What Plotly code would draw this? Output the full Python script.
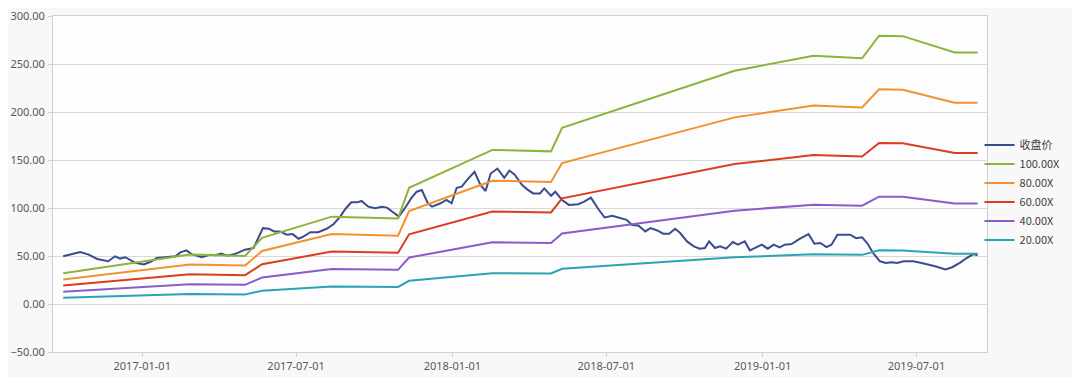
import plotly.graph_objects as go

# ---- closing price (收盘价) ----
price_dates = [
    "2016-09-30", "2016-10-20", "2016-10-30", "2016-11-09", "2016-11-22", "2016-11-30",
    "2016-12-06", "2016-12-12", "2016-12-24", "2017-01-03", "2017-01-12", "2017-01-18",
    "2017-01-28", "2017-02-09", "2017-02-15", "2017-02-22", "2017-02-28", "2017-03-12",
    "2017-03-22", "2017-03-28", "2017-04-04", "2017-04-11", "2017-04-20", "2017-05-02",
    "2017-05-12", "2017-05-23", "2017-05-30", "2017-06-05", "2017-06-12", "2017-06-20",
    "2017-06-27", "2017-07-04", "2017-07-10", "2017-07-18", "2017-07-27", "2017-08-06",
    "2017-08-14", "2017-08-22", "2017-08-28", "2017-09-04", "2017-09-11", "2017-09-16",
    "2017-09-24", "2017-10-02", "2017-10-10", "2017-10-16", "2017-10-22", "2017-10-30",
    "2017-11-06", "2017-11-14", "2017-11-20", "2017-11-26", "2017-12-03", "2017-12-08",
    "2017-12-18", "2017-12-25", "2017-12-31", "2018-01-06", "2018-01-12", "2018-01-19",
    "2018-01-27", "2018-02-03", "2018-02-09", "2018-02-15", "2018-02-23", "2018-03-03",
    "2018-03-09", "2018-03-15", "2018-03-24", "2018-03-30", "2018-04-06", "2018-04-14",
    "2018-04-19", "2018-04-27", "2018-05-02", "2018-05-10", "2018-05-18", "2018-05-29",
    "2018-06-05", "2018-06-13", "2018-06-21", "2018-06-29", "2018-07-08", "2018-07-17",
    "2018-07-25", "2018-07-31", "2018-08-08", "2018-08-16", "2018-08-22", "2018-08-30",
    "2018-09-06", "2018-09-13", "2018-09-20", "2018-09-26", "2018-10-04", "2018-10-12",
    "2018-10-19", "2018-10-25", "2018-10-30", "2018-11-06", "2018-11-12", "2018-11-19",
    "2018-11-27", "2018-12-03", "2018-12-11", "2018-12-17", "2018-12-25", "2018-12-31",
    "2019-01-07", "2019-01-14", "2019-01-21", "2019-01-27", "2019-02-04", "2019-02-13",
    "2019-02-24", "2019-03-03", "2019-03-10", "2019-03-17", "2019-03-23", "2019-03-30",
    "2019-04-07", "2019-04-14", "2019-04-21", "2019-04-28", "2019-05-04", "2019-05-11",
    "2019-05-19", "2019-05-26", "2019-06-02", "2019-06-08", "2019-06-16", "2019-06-27",
    "2019-07-07", "2019-07-15", "2019-07-23", "2019-08-04", "2019-08-12", "2019-08-21",
    "2019-08-29", "2019-09-06", "2019-09-11",
]
price_values = [
    49.7, 54.1, 51.4, 46.9, 44.5, 49.7,
    47.3, 48.7, 42.8, 41.1, 44.5, 47.9,
    48.7, 49.7, 53.8, 55.9, 52.0, 48.7,
    51.4, 50.7, 52.5, 50.4, 52.0, 56.6,
    58.3, 79.0, 78.4, 75.6, 75.6, 72.2,
    72.8, 68.0, 70.4, 74.8, 74.8, 78.4,
    83.1, 91.1, 99.0, 105.9, 105.9, 107.3,
    101.4, 99.7, 101.4, 100.4, 96.3, 91.1,
    99.7, 110.8, 117.0, 118.7, 105.0, 101.4,
    104.9, 108.4, 104.9, 121.1, 122.2, 130.1,
    137.7, 123.9, 117.7, 135.9, 141.1, 131.5,
    139.0, 134.9, 123.9, 119.4, 115.2, 115.2,
    120.4, 112.8, 117.0, 108.4, 103.2, 103.9,
    106.6, 110.8, 99.7, 90.1, 91.8, 89.3,
    87.7, 82.5, 81.5, 75.6, 79.0, 76.6,
    73.2, 73.2, 78.4, 73.9, 65.2, 60.0,
    57.6, 58.3, 65.2, 58.3, 60.0, 57.6,
    64.5, 61.8, 65.2, 55.9, 59.3, 61.8,
    57.6, 61.8, 59.0, 61.8, 62.4, 67.6,
    72.8, 62.8, 63.5, 59.3, 61.8, 72.2,
    72.2, 72.2, 68.6, 69.4, 63.5, 53.1,
    44.5, 42.8, 43.5, 42.8, 44.5, 44.5,
    42.8, 41.1, 39.3, 35.9, 38.3, 42.8,
    47.9, 52.0, 50.7,
]

# ---- PE band lines ----
band_dates = [
    "2016-09-30", "2017-02-26", "2017-05-02", "2017-05-22", "2017-08-12", "2017-10-29",
    "2017-11-11", "2018-02-17", "2018-04-27", "2018-05-10", "2018-11-29", "2019-03-02",
    "2019-04-28", "2019-05-18", "2019-06-15", "2019-08-15", "2019-09-11",
]
band_100x = [32.0, 51.5, 50.0, 69.0, 91.0, 89.0, 121.0, 160.5, 159.0, 183.5, 243.0, 258.5, 256.0, 279.5, 279.0, 262.0, 262.0]
band_80x = [25.6, 41.2, 40.0, 55.2, 72.8, 71.2, 96.8, 128.4, 127.2, 146.8, 194.4, 206.8, 204.8, 223.6, 223.2, 209.6, 209.6]
band_60x = [19.2, 30.9, 30.0, 41.4, 54.6, 53.4, 72.6, 96.3, 95.4, 110.1, 145.8, 155.1, 153.6, 167.7, 167.4, 157.2, 157.2]
band_40x = [12.8, 20.6, 20.0, 27.6, 36.4, 35.6, 48.4, 64.2, 63.6, 73.4, 97.2, 103.4, 102.4, 111.8, 111.6, 104.8, 104.8]
band_20x = [6.4, 10.3, 10.0, 13.8, 18.2, 17.8, 24.2, 32.1, 31.8, 36.7, 48.6, 51.7, 51.2, 55.9, 55.8, 52.4, 52.4]

series_names = ["收盘价", "100.00X", "80.00X", "60.00X", "40.00X", "20.00X"]
series_colors = ["#3c4b8e", "#8cb43a", "#f3912f", "#dc3d1f", "#8a5cc9", "#2aa3b3"]

fig = go.Figure()
fig.add_trace(go.Scatter(x=price_dates, y=price_values, mode="lines", name=series_names[0],
                         line=dict(color=series_colors[0], width=2)))
for name, vals, col in zip(series_names[1:], [band_100x, band_80x, band_60x, band_40x, band_20x], series_colors[1:]):
    fig.add_trace(go.Scatter(x=band_dates, y=vals, mode="lines", name=name,
                             line=dict(color=col, width=2)))

# the page body adds an 8px offset, so the figure is 8px smaller on each axis
fig.update_layout(
    width=1072, height=369,
    margin=dict(l=45, r=93, t=8, b=25, autoexpand=False),
    paper_bgcolor="#f8f8f8",
    plot_bgcolor="#fdfdfd",
    font=dict(family="Noto Sans, Noto Sans CJK SC, sans-serif", size=11, color="#595959"),
    showlegend=True,
    legend=dict(x=0.992, xanchor="left", y=0.475, yanchor="middle",
                font=dict(family="Noto Sans CJK SC, Noto Sans, sans-serif", size=11, color="#404040"),
                itemwidth=30, bgcolor="rgba(0,0,0,0)", tracegroupgap=0),
)
fig.update_xaxes(
    type="date", range=["2016-09-18", "2019-09-22"], automargin=False,
    tick0="2017-01-01", dtick="M6", tickformat="%Y-%m-%d",
    showgrid=False, showline=True, linecolor="#d0d0d0", linewidth=1, mirror=True,
    ticks="outside", ticklen=4, tickcolor="#d0d0d0", zeroline=False,
    tickfont=dict(size=11, color="#595959"), ticklabeloverflow="allow",
)
fig.update_yaxes(
    range=[-50, 300], dtick=50, tickformat=".2f", automargin=False,
    showgrid=True, gridcolor="#d9d9d9", gridwidth=1,
    showline=True, linecolor="#d0d0d0", linewidth=1, mirror=True,
    ticks="outside", ticklen=4, tickcolor="#d0d0d0", zeroline=False,
    tickfont=dict(size=11, color="#595959"), ticklabelstandoff=1,
    ticklabeloverflow="allow",
)

fig.write_html("out.html")
